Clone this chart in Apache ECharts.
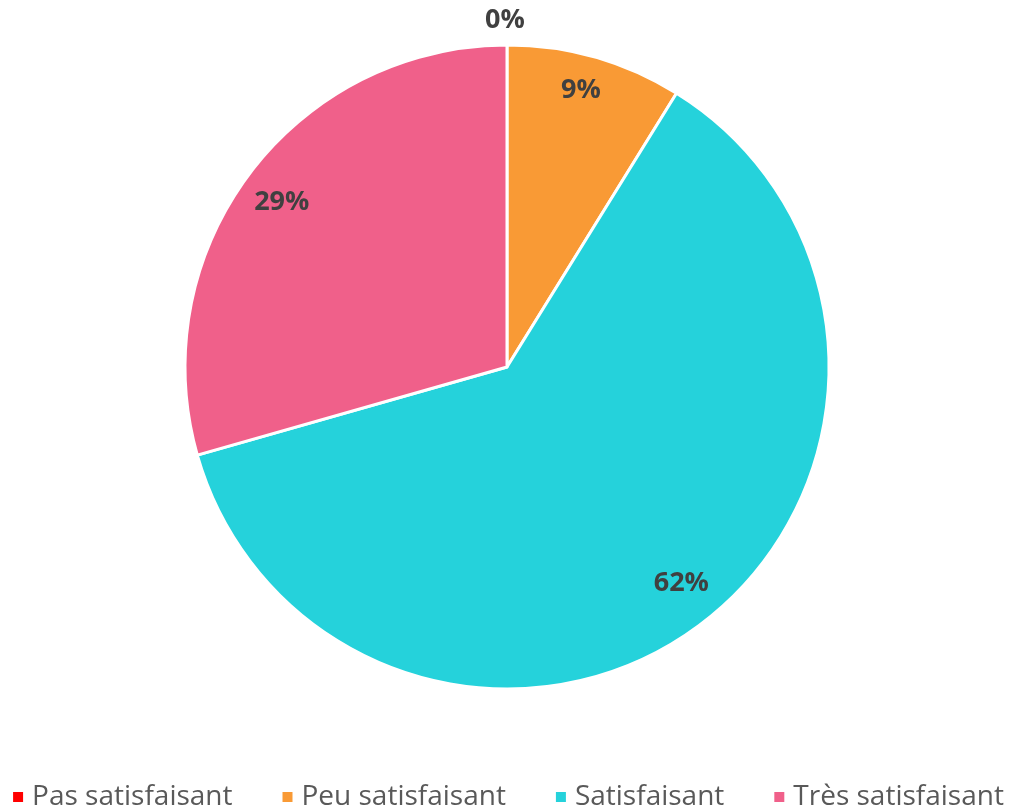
<!DOCTYPE html>
<html>
<head>
	<meta charset="UTF-8">
	<title>Satisfaction</title>
	<script src="https://cdn.jsdelivr.net/npm/echarts@6/dist/echarts.min.js"></script>
	<style>
		html, body { margin: 0; padding: 0; background: #fff; }
	</style>
</head>
<body>
<div id="main" style="width: 1015px;height:811px;"></div>
<script type="text/javascript">
	// categories and counts (percentages shown as labels)
	var categories = ['Pas satisfaisant', 'Peu satisfaisant', 'Satisfaisant', 'Très satisfaisant'];
	var counts = [0, 3, 21, 10];
	var colors = ['#FF0000', '#F99A35', '#25D2DB', '#F0608A'];

	var myChart = echarts.init(document.getElementById('main'));

	var total = counts.reduce(function (a, b) { return a + b; }, 0);

	function pct(v) {
		return Math.round(v / total * 100) + '%';
	}

	// small nudges so the labels sit where excel put them
	var labelOffsets = [[-2, -66], [-3, -6], [5, -8], [-1, 5]];

	var pieData = categories.map(function (c, i) {
		return { name: c, value: counts[i], itemStyle: { color: colors[i] } };
	});

	// second transparent ring only used to put labels near the rim
	var labelData = categories.map(function (c, i) {
		return { name: c, value: counts[i], label: { offset: labelOffsets[i] } };
	});

	var option = {
		animation: false,
		legend: {
			data: categories,
			bottom: 0,
			left: 'center',
			padding: 0,
			itemWidth: 12,
			itemHeight: 12,
			itemGap: 48,
			icon: 'rect',
			textStyle: {
				fontFamily: 'Open Sans',
				fontSize: 28,
				color: '#595959',
				padding: [0, 0, 0, 3]
			}
		},
		series: [
			{
				name: 'satisfaction',
				type: 'pie',
				center: [507, 367],
				radius: 322,
				startAngle: 90,
				clockwise: true,
				label: { show: false },
				labelLine: { show: false },
				itemStyle: {
					borderColor: '#fff',
					borderWidth: 3
				},
				data: pieData
			},
			{
				name: 'labels',
				type: 'pie',
				silent: true,
				center: [507, 367],
				radius: [234, 322],
				startAngle: 90,
				clockwise: true,
				itemStyle: { color: 'rgba(0,0,0,0)' },
				label: {
					show: true,
					position: 'inside',
					fontFamily: 'Open Sans',
					fontWeight: 'bold',
					fontSize: 27,
					color: '#404040',
					formatter: function (p) { return pct(p.value); }
				},
				labelLine: { show: false },
				data: labelData
			}
		]
	};

	myChart.setOption(option);
</script>
</body>
</html>
